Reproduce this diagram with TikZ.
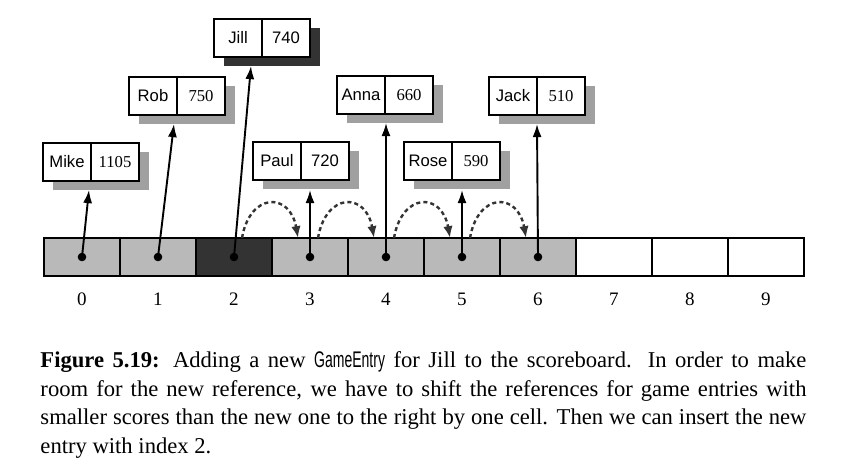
\documentclass[tikz,border=0pt]{standalone}
\usepackage{fontspec}
\setmainfont{Liberation Serif}
\setsansfont{Liberation Sans}
\newfontfamily\narrowsf[FakeStretch=0.62]{Liberation Sans}
\usetikzlibrary{positioning,shadows,calc,arrows.meta}
\definecolor{cellgray}{RGB}{185,185,185}
\definecolor{shadowgray}{RGB}{160,160,160}
\definecolor{darkcell}{RGB}{51,51,51}
\setlength{\parindent}{0pt}
\newcommand{\fullline}[1]{\makebox[321.72pt][s]{#1}}
\begin{document}
\begin{tikzpicture}[x=0.42pt, y=-0.42pt,
	cell/.style={rectangle, draw=black, line width=1pt, minimum width=31.92pt, minimum height=15.96pt, inner sep=0pt, outer sep=0pt},
	used/.style={cell, fill=cellgray},
	fresh/.style={cell, fill=darkcell},
	free/.style={cell, fill=white},
	dot/.style={circle, fill=black, inner sep=0pt, minimum size=3.6pt},
	idx/.style={inner sep=0pt, font=\fontsize{8}{9}\selectfont},
	entry/.style={rectangle, draw=black, line width=0.6pt, fill=white, minimum width=20.16pt, minimum height=15.96pt, inner sep=0pt, outer sep=0pt, drop shadow={shadow xshift=4.2pt, shadow yshift=-3.78pt, fill=#1, opacity=1}},
	entry/.default=shadowgray,
	who/.style={entry=#1, font=\fontsize{7}{8}\selectfont\sffamily},
	who/.default=shadowgray,
	pts/.style={entry=#1, font=\fontsize{7}{8}\selectfont\rmfamily},
	pts/.default=shadowgray,
	ref/.style={line width=0.8pt, -{Latex[length=5.5pt,width=3.8pt]}},
	moveon/.style={line width=1pt, draw=darkcell, dash pattern=on 1.7pt off 1.3pt, -{Latex[length=5pt,width=4pt]}}]
	
	\useasboundingbox (0,0) rectangle (859,466);
	
	% the array
	\foreach \i/\s in {0/used,1/used,2/fresh,3/used,4/used,5/used,6/used,7/free,8/free,9/free}
		\node (c\i) [\s] at ({82+76*\i},257) {};
	\foreach \i in {0,...,9}
		\node (l\i) [idx] at ({82+76*\i},299) {\i};
	\foreach \i in {0,...,6}
		\node (d\i) [dot] at (c\i) {};
	
	% game entries
	\node (mike) [who] at (67,162) {Mike};
	\node (mikept) [pts, right=0pt of mike] {1105};
	\node (rob) [who] at (153,96) {Rob};
	\node (robpt) [pts, right=0pt of rob] {750};
	\node (jill) [who=darkcell] at (238,38) {Jill};
	\node (jillpt) [entry=darkcell, font=\fontsize{7}{8}\selectfont\sffamily, right=0pt of jill] {740};
	\node (paul) [who] at (277,161) {Paul};
	\node (paulpt) [entry, font=\fontsize{7}{8}\selectfont\sffamily, right=0pt of paul] {720};
	\node (anna) [who] at (361,95) {Anna};
	\node (annapt) [pts, right=0pt of anna] {660};
	\node (rose) [who] at (428,161) {Rose};
	\node (rosept) [pts, right=0pt of rose] {590};
	\node (jack) [who] at (513,96) {Jack};
	\node (jackpt) [pts, right=0pt of jack] {510};
	
	\coordinate (tmike) at (89,190);
	\coordinate (trob) at (174,124);
	\coordinate (tjill) at (251,66);
	\coordinate (tpaul) at (310,190);
	\coordinate (tanna) at (386,123);
	\coordinate (trose) at (462,190);
	\coordinate (tjack) at (537,124);
	
	\draw [ref] (d0.center) -- (tmike);
	\draw [ref] (d1.center) -- (trob);
	\draw [ref] (d2.center) -- (tjill);
	\draw [ref] (d3.center) -- (tpaul);
	\draw [ref] (d4.center) -- (tanna);
	\draw [ref] (d5.center) -- (trose);
	\draw [ref] (d6.center) -- (tjack);
	
	% shifting to the right
	\foreach \i/\j in {2/3,3/4,4/5,5/6}
		\draw [moveon] ($(c\i.north)+(8,0)$) .. controls +(8,-46) and +(-8,-46) .. ($(c\j.north)+(-12,0)$);
	
	\node (caption) [anchor=north west, inner sep=0pt, align=left, font=\fontsize{9.5}{12.05}\selectfont] at (40,351) {\fullline{\textbf{Figure 5.19:} Adding a new {\narrowsf GameEntry} for Jill to the scoreboard. In order to make}\\ \fullline{room for the new reference, we have to shift the references for game entries with}\\ \fullline{smaller scores than the new one to the right by one cell. Then we can insert the new}\\ entry with index 2.};
\end{tikzpicture}
\end{document}
